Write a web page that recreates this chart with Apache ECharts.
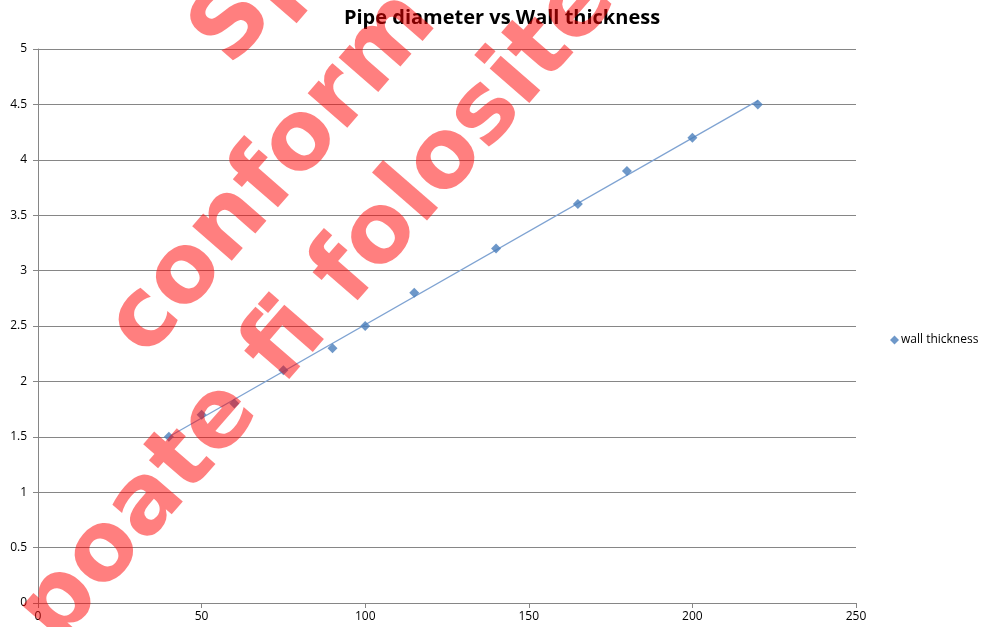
<!DOCTYPE html>
<html>
<head>
<meta charset="utf-8">
<script src="https://cdn.jsdelivr.net/npm/echarts@6/dist/echarts.min.js"></script>
<style>
html,body{margin:0;padding:0;background:#fff;}
#chart{width:981px;height:627px;}
</style>
</head>
<body>
<div id="chart"></div>
<script>
const chartTitle = 'Pipe diameter vs Wall thickness';
const seriesName = 'wall thickness';
const diameters = [40, 50, 60, 75, 90, 100, 115, 140, 165, 180, 200, 220];
const wallThickness = [1.5, 1.7, 1.8, 2.1, 2.3, 2.5, 2.8, 3.2, 3.6, 3.9, 4.2, 4.5];
const xTicks = [0, 50, 100, 150, 200, 250];
const yTicks = [0, 0.5, 1, 1.5, 2, 2.5, 3, 3.5, 4, 4.5, 5];
const watermarkLines = ['Specimen', 'conform', 'poate fi folosite'];

// linear trendline (least squares) from the data
const n = diameters.length;
const mx = diameters.reduce((a, b) => a + b, 0) / n;
const my = wallThickness.reduce((a, b) => a + b, 0) / n;
let sxy = 0, sxx = 0;
for (let i = 0; i < n; i++) {
  sxy += (diameters[i] - mx) * (wallThickness[i] - my);
  sxx += (diameters[i] - mx) * (diameters[i] - mx);
}
const slope = sxy / sxx;
const intercept = my - slope * mx;
const xMin = Math.min(...diameters), xMax = Math.max(...diameters);
const trend = [[xMin, intercept + slope * xMin], [xMax, intercept + slope * xMax]];

const points = diameters.map((d, i) => [d, wallThickness[i]]);

const chart = echarts.init(document.getElementById('chart'));
const ang = 49 * Math.PI / 180;
const wmFont = 'bold 96px "DejaVu Sans"';
const wmFill = 'rgba(255,0,0,0.5)';
const wmPos = [[212, 52], [127, 343], [38, 630]];

chart.setOption({
  animation: false,
  backgroundColor: '#ffffff',
  title: {
    text: chartTitle,
    left: 497, top: 3, textAlign: 'center',
    textStyle: { fontFamily: 'Open Sans', fontWeight: 'bold', fontSize: 20, color: '#000' }
  },
  legend: {
    data: [{ name: seriesName, icon: 'diamond' }],
    left: 885, top: 329, orient: 'vertical',
    itemWidth: 9, itemHeight: 9, itemGap: 4,
    textStyle: { fontFamily: 'Open Sans', fontSize: 12, color: '#000', padding: [0, 0, 0, -3] }
  },
  grid: { left: 38, right: 125, top: 49, bottom: 24, containLabel: false },
  xAxis: {
    type: 'value', min: xTicks[0], max: xTicks[xTicks.length - 1], interval: 50,
    axisLine: { show: true, lineStyle: { color: '#868686', width: 1 } },
    axisTick: { show: true, length: 5, lineStyle: { color: '#868686' } },
    axisLabel: { fontFamily: 'Open Sans', fontSize: 12, color: '#000', margin: 8 },
    splitLine: { show: false }
  },
  yAxis: {
    type: 'value', min: yTicks[0], max: yTicks[yTicks.length - 1], interval: 0.5,
    axisLine: { show: true, lineStyle: { color: '#868686', width: 1 } },
    axisTick: { show: true, length: 5, lineStyle: { color: '#868686' } },
    axisLabel: { fontFamily: 'Open Sans', fontSize: 12, color: '#000', margin: 11 },
    splitLine: { show: true, lineStyle: { color: '#868686', width: 1 } }
  },
  series: [
    {
      name: 'trend', type: 'line', data: trend, symbol: 'none', silent: true,
      lineStyle: { color: '#7FA3D2', width: 1.3 }, z: 2
    },
    {
      name: seriesName, type: 'scatter', data: points, symbol: 'diamond', symbolSize: 10,
      itemStyle: { color: '#4A7EBB' }, z: 3
    }
  ],
  graphic: watermarkLines.map((t, i) => ({
    type: 'text', x: wmPos[i][0], y: wmPos[i][1], rotation: ang, z: 100, silent: true,
    style: { text: t, font: wmFont, fill: wmFill, align: 'left', verticalAlign: 'middle' }
  }))
});
</script>
</body>
</html>
